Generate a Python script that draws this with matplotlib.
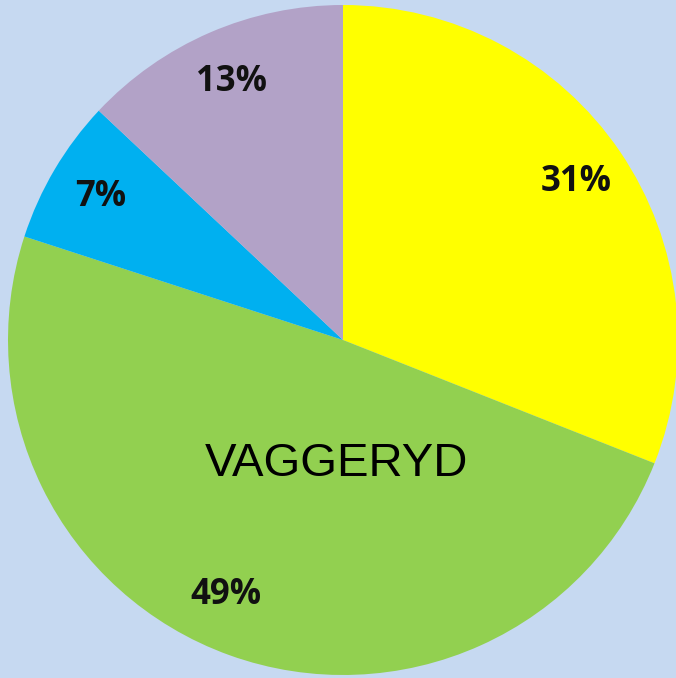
import matplotlib.pyplot as plt

# slice data, clockwise from 12 o'clock
shares = [31, 49, 7, 13]
colors = ['#ffff00', '#92d050', '#00b0f0', '#b2a2c7']
center_label = 'VAGGERYD'

bg = '#c6d9f1'

fig = plt.figure(figsize=(6.76, 6.78), dpi=100, facecolor=bg)
ax = fig.add_axes([0, 0, 1, 1])
ax.set_facecolor(bg)

wedges, texts, autotexts = ax.pie(
    shares,
    colors=colors,
    startangle=90,
    counterclock=False,
    autopct='%d%%',
    pctdistance=0.84,
    radius=1.0,
    wedgeprops={'linewidth': 0},
    textprops={'fontsize': 25, 'fontweight': 'bold', 'family': 'Open Sans', 'color': '#111111'},
)

# nudge the big slice label to where it sits in the original
autotexts[1].set_position((-0.35, -0.76))

ax.text(-0.02, -0.37, center_label, ha='center', va='center',
        fontsize=34, family='Liberation Sans', color='black')

# pixel-matched limits: center at (343, 340), radius 335 px
ax.set_xlim(-343 / 335, (676 - 343) / 335)
ax.set_ylim(-(678 - 340) / 335, 340 / 335)
ax.set_aspect('equal')
ax.axis('off')

plt.savefig('out.png', dpi=100, facecolor=bg)
